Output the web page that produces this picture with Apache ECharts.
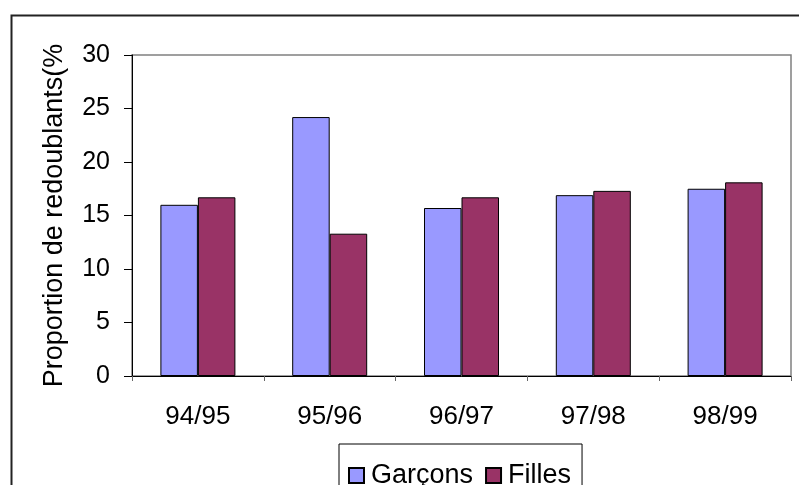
<!DOCTYPE html>
<html>
<head>
<meta charset="utf-8">
<script src="https://cdn.jsdelivr.net/npm/echarts@6/dist/echarts.min.js"></script>
<style>
html,body{margin:0;padding:0;background:#fff;}
#chart{width:799px;height:485px;}
</style>
</head>
<body>
<div id="chart"></div>
<script>
const categories = ['94/95', '95/96', '96/97', '97/98', '98/99'];
const garcons = [16.0, 24.2, 15.7, 16.9, 17.5];
const filles = [16.7, 13.3, 16.7, 17.3, 18.1];
const yTicks = { min: 0, max: 30, interval: 5 };
const yName = 'Proportion de redoublants(%';

const FONT = '"Liberation Sans", Arial, sans-serif';
const chart = echarts.init(document.getElementById('chart'), null, { renderer: 'canvas' });
chart.setOption({
  animation: false,
  backgroundColor: '#fff',
  textStyle: { fontFamily: FONT, color: '#000' },
  graphic: [{
    type: 'rect',
    left: 9, top: 13,
    shape: { x: 0, y: 0, width: 830, height: 520 },
    style: { fill: 'none', stroke: '#222', lineWidth: 2 },
    silent: true, z: 100
  }],
  grid: {
    left: 132, top: 55, right: 8, bottom: 109,
    show: true, borderColor: '#808080', borderWidth: 1.5, backgroundColor: '#fff'
  },
  legend: {
    left: 339, top: 444,
    padding: [18, 11, 30, 9],
    borderColor: '#000', borderWidth: 1,
    itemWidth: 15, itemHeight: 15, itemGap: 12,
    icon: 'rect',
    textStyle: { fontSize: 27, fontFamily: FONT, color: '#000', padding: [0, 0, 0, 2] },
    data: ['Garçons', 'Filles']
  },
  xAxis: {
    type: 'category',
    data: categories,
    axisLine: { lineStyle: { color: '#000', width: 1 } },
    axisTick: { show: true, length: 5, lineStyle: { color: '#666' } },
    axisLabel: { fontSize: 26, color: '#000', margin: 28, fontFamily: FONT }
  },
  yAxis: {
    type: 'value',
    min: yTicks.min, max: yTicks.max, interval: yTicks.interval,
    name: yName,
    nameLocation: 'middle',
    nameGap: 64,
    nameTextStyle: { fontSize: 27, color: '#000', fontFamily: FONT },
    axisLine: { show: true, lineStyle: { color: '#000', width: 1 } },
    axisTick: { show: true, length: 8, lineStyle: { color: '#000' } },
    axisLabel: { fontSize: 25, color: '#000', margin: 22, fontFamily: FONT },
    splitLine: { show: false }
  },
  series: [
    {
      name: 'Garçons', type: 'bar', data: garcons,
      barWidth: 37.5, barGap: '0%',
      itemStyle: { color: '#9999FF', borderColor: '#000', borderWidth: 1 }
    },
    {
      name: 'Filles', type: 'bar', data: filles,
      barWidth: 37.5, barGap: '0%',
      itemStyle: { color: '#993366', borderColor: '#000', borderWidth: 1 }
    }
  ]
});
</script>
</body>
</html>
